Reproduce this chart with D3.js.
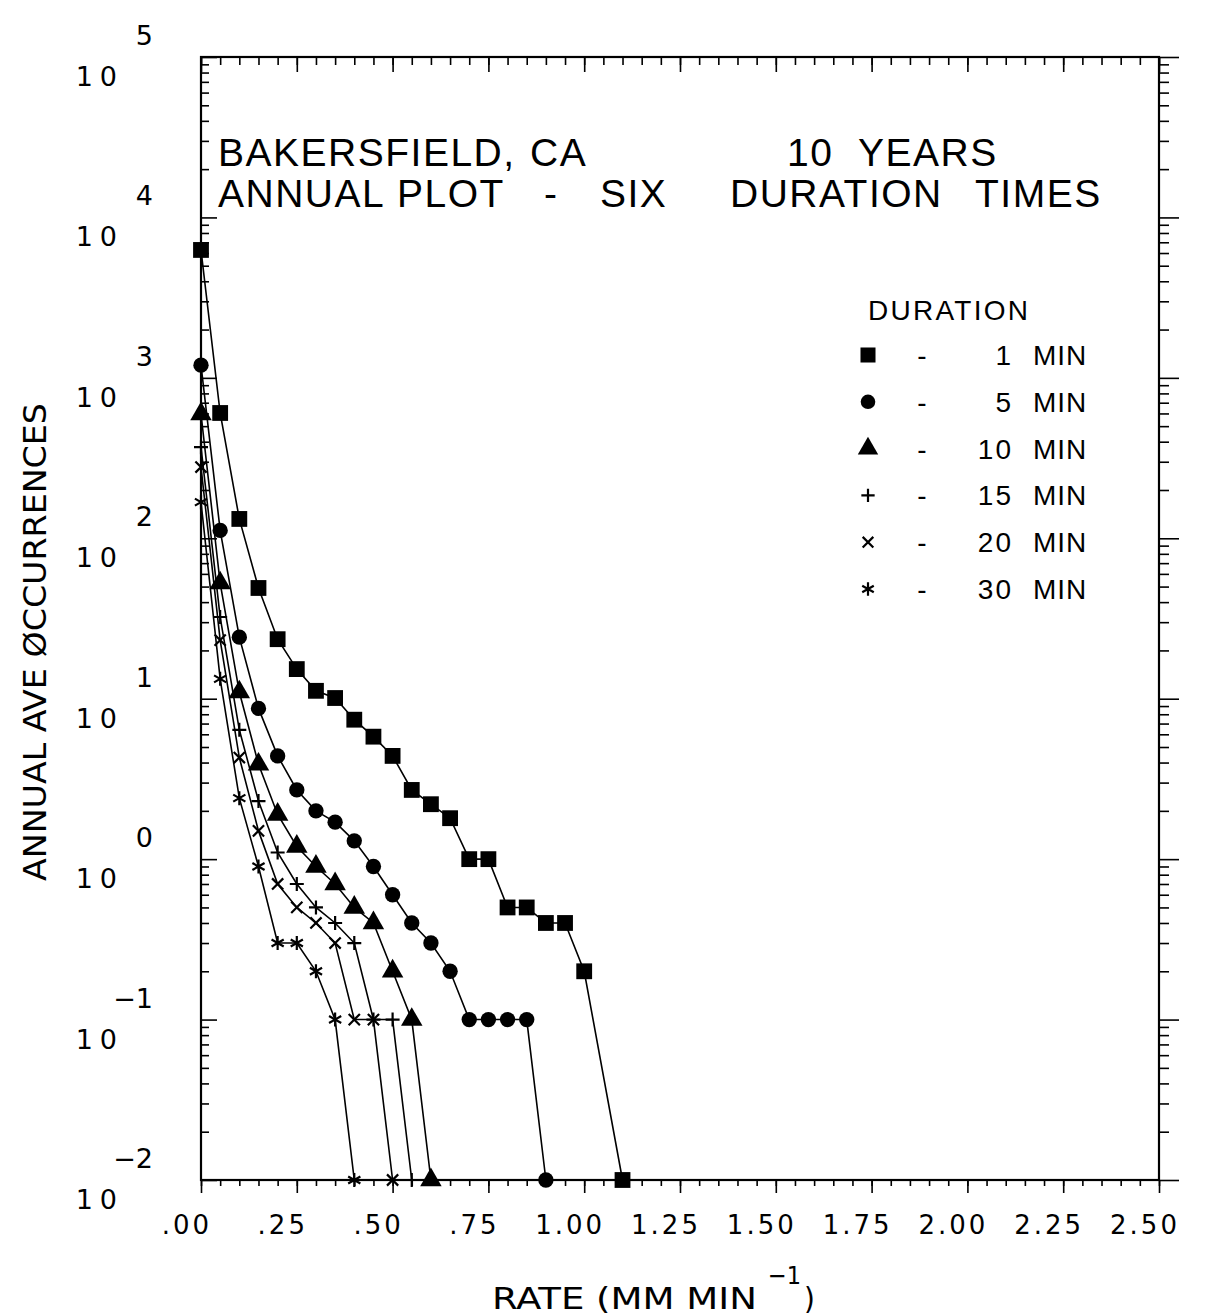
<!DOCTYPE html>
<meta charset="utf-8">
<style>
body { margin: 0; background: #fff; }
svg { display: block; background: #fff; }
.frame { fill: none; stroke: #000; stroke-width: 2.2; }
.axis path { display: none; }
.axis line { stroke: #000; stroke-width: 1.6; }
.series { fill: none; stroke: #000; stroke-width: 1.6; }
.tick-label { font-family: "DejaVu Sans", sans-serif; fill: #000; }
.axis-title { font-family: "DejaVu Sans Condensed", "DejaVu Sans", sans-serif; fill: #000; }
.title { font-family: "Liberation Sans", Arial, sans-serif; fill: #000; }
</style>
<svg width="1213" height="1315"></svg>
<script src="https://cdn.jsdelivr.net/npm/d3@7"></script>
<script>

// rate (mm/min) at each plotted step
var RATES = [0, .05, .10, .15, .20, .25, .30, .35, .40, .45, .50, .55, .60, .65, .70, .75, .80, .85, .90, .95, 1.00, 1.05, 1.10];

// annual average occurrences per duration (0 = none, drawn on the bottom axis)
var MIN_1  = [6270, 604, 132, 49, 23.5, 15.3, 11.2, 10.1, 7.4, 5.8, 4.4, 2.7, 2.2, 1.8, 1.0, 1.0, 0.5, 0.5, 0.4, 0.4, 0.2, null, 0];
var MIN_5  = [1200, 112, 24.2, 8.7, 4.4, 2.7, 2.0, 1.7, 1.3, 0.9, 0.6, 0.4, 0.3, 0.2, 0.1, 0.1, 0.1, 0.1, 0];
var MIN_10 = [595, 52.6, 11.0, 3.9, 1.9, 1.2, 0.9, 0.7, 0.5, 0.4, 0.2, 0.1, 0];
var MIN_15 = [370, 32.3, 6.4, 2.3, 1.1, 0.7, 0.5, 0.4, 0.3, 0.1, 0.1, 0];
var MIN_20 = [278, 23.2, 4.3, 1.5, 0.7, 0.5, 0.4, 0.3, 0.1, 0.1, 0];
var MIN_30 = [168, 13.3, 2.4, 0.9, 0.3, 0.3, 0.2, 0.1, 0];

var DURATIONS = ["1", "5", "10", "15", "20", "30"];
var SYMBOLS = ["square", "circle", "triangle", "plus", "cross", "star"];

var X_TICKS = [0, .25, .50, .75, 1.00, 1.25, 1.50, 1.75, 2.00, 2.25, 2.50];
var X_LABELS = [".00", ".25", ".50", ".75", "1.00", "1.25", "1.50", "1.75", "2.00", "2.25", "2.50"];
var Y_EXPONENTS = [5, 4, 3, 2, 1, 0, -1, -2];

var svg = d3.select("svg");

var x = d3.scaleLinear().domain([0, 2.5]).range([201, 1159]);
var y = d3.scaleLog().domain([0.01, 1e5]).range([1180, 57]);
var FLOOR = 0.01;

// frame
svg.append("rect").attr("class", "frame")
    .attr("x", x(0)).attr("y", y(1e5))
    .attr("width", x(2.5) - x(0)).attr("height", y(0.01) - y(1e5));

// x ticks: minor every .05, major every .25
var xMinor = d3.range(0, 2.5001, 0.05);
svg.append("g").attr("class", "axis").attr("transform", "translate(0," + y(0.01) + ")")
    .call(d3.axisBottom(x).tickValues(xMinor).tickSize(6).tickFormat(""));
svg.append("g").attr("class", "axis").attr("transform", "translate(0," + y(0.01) + ")")
    .call(d3.axisBottom(x).tickValues(X_TICKS).tickSize(13).tickFormat(""));
svg.append("g").attr("class", "axis").attr("transform", "translate(0," + y(1e5) + ")")
    .call(d3.axisTop(x).tickValues(xMinor).tickSize(-8).tickFormat(""));
svg.append("g").attr("class", "axis").attr("transform", "translate(0," + y(1e5) + ")")
    .call(d3.axisTop(x).tickValues(X_TICKS).tickSize(-15).tickFormat(""));

// y ticks: decades long, 2..9 short
var yMinor = [];
Y_EXPONENTS.forEach(function(e) {
  if (e < 5) d3.range(2, 10).forEach(function(m) { yMinor.push(m * Math.pow(10, e)); });
});
var yMajor = Y_EXPONENTS.map(function(e) { return Math.pow(10, e); });
svg.append("g").attr("class", "axis").attr("transform", "translate(" + x(0) + ",0)")
    .call(d3.axisLeft(y).tickValues(yMinor).tickSize(-8).tickFormat(""));
svg.append("g").attr("class", "axis").attr("transform", "translate(" + x(0) + ",0)")
    .call(d3.axisLeft(y).tickValues(yMajor).tickSize(-16).tickFormat(""));
svg.append("g").attr("class", "axis").attr("transform", "translate(" + x(2.5) + ",0)")
    .call(d3.axisRight(y).tickValues(yMinor).tickSize(10).tickFormat(""));
svg.append("g").attr("class", "axis").attr("transform", "translate(" + x(2.5) + ",0)")
    .call(d3.axisRight(y).tickValues(yMajor).tickSize(20).tickFormat(""));

// x tick labels
svg.append("g").selectAll("text")
    .data(X_TICKS)
  .enter().append("text")
    .attr("class", "tick-label")
    .attr("x", function(d) { return x(d) - 14; })
    .attr("y", 1234)
    .attr("text-anchor", "middle")
    .style("font-size", "26px")
    .style("letter-spacing", "3px")
    .text(function(d, i) { return X_LABELS[i]; });

// y tick labels "10" with exponent
var yl = svg.append("g").selectAll("g")
    .data(Y_EXPONENTS)
  .enter().append("g");
yl.append("text")
    .attr("class", "tick-label")
    .attr("x", 124).attr("y", function(d) { return y(Math.pow(10, d)) + 29; })
    .attr("text-anchor", "end")
    .style("font-size", "27px")
    .style("letter-spacing", "7px")
    .text("10");
yl.append("text")
    .attr("class", "tick-label")
    .attr("x", 153).attr("y", function(d) { return y(Math.pow(10, d)) - 12; })
    .attr("text-anchor", "end")
    .style("font-size", "27px")
    .text(function(d) { return d < 0 ? "\u2212" + (-d) : d; });

// axis titles
svg.append("text")
    .attr("class", "axis-title")
    .attr("transform", "translate(46,642) rotate(-90)")
    .attr("text-anchor", "middle")
    .attr("textLength", 478).attr("lengthAdjust", "spacingAndGlyphs")
    .style("font-size", "32px")
    .text("ANNUAL AVE \u00D8CCURRENCES");
svg.append("text")
    .attr("class", "axis-title")
    .attr("x", 492).attr("y", 1309)
    .attr("textLength", 265).attr("lengthAdjust", "spacingAndGlyphs")
    .style("font-size", "31px")
    .text("RATE  (MM  MIN");
svg.append("text")
    .attr("class", "axis-title")
    .attr("x", 768).attr("y", 1284)
    .style("font-size", "25px")
    .text("\u22121");
svg.append("text")
    .attr("class", "axis-title")
    .attr("x", 804).attr("y", 1309)
    .style("font-size", "31px")
    .text(")");

// chart title, placed word by word
var TITLE_WORDS = [
  ["BAKERSFIELD,", 218, 166], ["CA", 530, 166], ["10", 787, 166], ["YEARS", 858, 166],
  ["ANNUAL", 218, 207], ["PLOT", 397, 207], ["-", 544, 207], ["SIX", 600, 207],
  ["DURATION", 730, 207], ["TIMES", 975, 207]
];
svg.append("g").selectAll("text")
    .data(TITLE_WORDS)
  .enter().append("text")
    .attr("class", "title")
    .attr("x", function(d) { return d[1]; })
    .attr("y", function(d) { return d[2]; })
    .style("font-size", "39px")
    .style("letter-spacing", "1.5px")
    .text(function(d) { return d[0]; });

// marker drawing
function drawMarker(sel, kind, scale) {
  scale = scale || 1;
  if (kind === "square") {
    sel.append("path").attr("d", d3.symbol(d3.symbolSquare, 250 * scale * scale)).attr("fill", "#000");
  } else if (kind === "circle") {
    sel.append("path").attr("d", d3.symbol(d3.symbolCircle, 185 * scale * scale)).attr("fill", "#000");
  } else if (kind === "triangle") {
    sel.append("path").attr("d", d3.symbol(d3.symbolTriangle, 200 * scale * scale)).attr("fill", "#000");
  } else {
    var s = 7 * scale;
    var d = kind === "plus" ? "M" + (-s) + ",0H" + s + "M0," + (-s) + "V" + s
      : kind === "cross" ? "M" + (-s * 0.8) + "," + (-s * 0.8) + "L" + (s * 0.8) + "," + (s * 0.8) + "M" + (-s * 0.8) + "," + (s * 0.8) + "L" + (s * 0.8) + "," + (-s * 0.8)
      : "M0," + (-s) + "V" + s + "M" + (-s * 0.87) + "," + (-s * 0.5) + "L" + (s * 0.87) + "," + (s * 0.5) + "M" + (-s * 0.87) + "," + (s * 0.5) + "L" + (s * 0.87) + "," + (-s * 0.5);
    sel.append("path").attr("d", d).attr("stroke", "#000").attr("stroke-width", 2.2).attr("fill", "none");
  }
}

var allSeries = [MIN_1, MIN_5, MIN_10, MIN_15, MIN_20, MIN_30];

var line = d3.line()
    .x(function(d) { return x(d.r); })
    .y(function(d) { return y(Math.max(d.v, FLOOR)); });

allSeries.forEach(function(vals, k) {
  var pts = [];
  vals.forEach(function(v, i) { if (v != null) pts.push({ r: RATES[i], v: v }); });
  svg.append("path").attr("class", "series").attr("d", line(pts));
  svg.append("g").selectAll("g")
      .data(pts)
    .enter().append("g")
      .attr("transform", function(d) { return "translate(" + x(d.r) + "," + y(Math.max(d.v, FLOOR)) + ")"; })
      .each(function() { drawMarker(d3.select(this), SYMBOLS[k]); });
});

// legend
var legend = svg.append("g");
legend.append("text").attr("class", "title")
    .attr("x", 868).attr("y", 320)
    .attr("textLength", 160).attr("lengthAdjust", "spacing")
    .style("font-size", "28px")
    .text("DURATION");
var rows = legend.selectAll("g.row")
    .data(DURATIONS)
  .enter().append("g")
    .attr("class", "row")
    .attr("transform", function(d, i) { return "translate(0," + (355 + i * 46.8) + ")"; });
rows.each(function(d, i) {
  var g = d3.select(this).append("g").attr("transform", "translate(868,0)");
  drawMarker(g, SYMBOLS[i], 0.95);
});
rows.append("text").attr("class", "title")
    .attr("x", 922).attr("y", 10).attr("text-anchor", "middle")
    .style("font-size", "28px").text("-");
rows.append("text").attr("class", "title")
    .attr("x", 1013).attr("y", 10).attr("text-anchor", "end")
    .style("font-size", "28px").style("letter-spacing", "2px")
    .text(function(d) { return d; });
rows.append("text").attr("class", "title")
    .attr("x", 1033).attr("y", 10)
    .style("font-size", "28px").style("letter-spacing", "1px")
    .text("MIN");

</script>
